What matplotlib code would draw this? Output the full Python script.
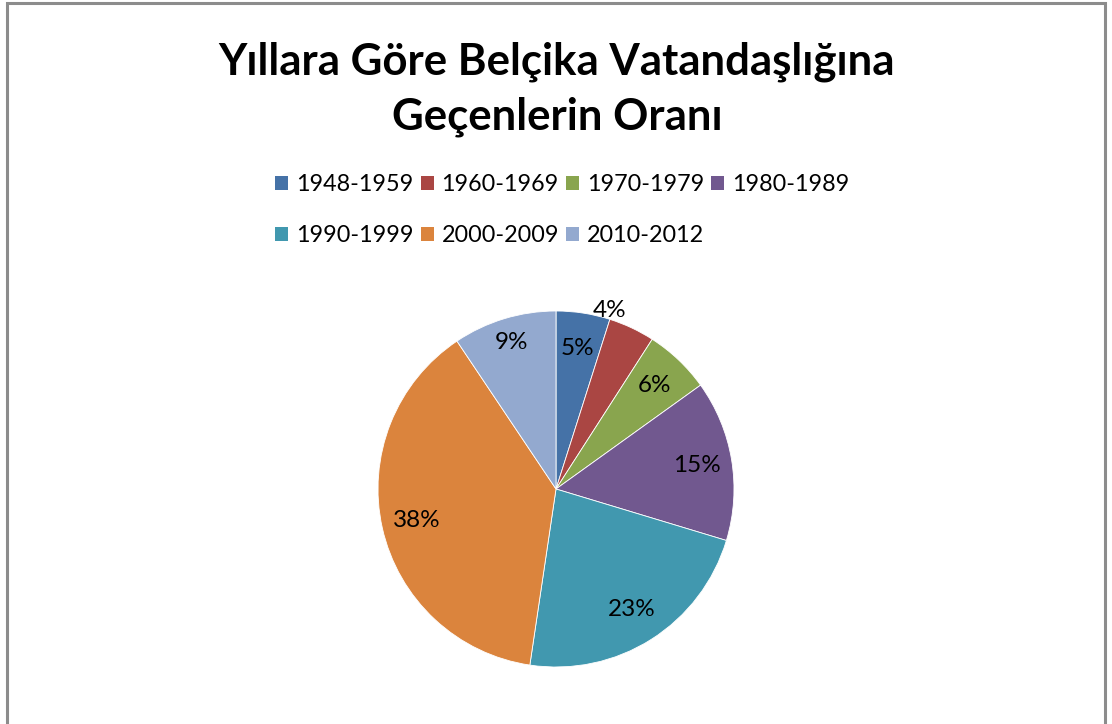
import numpy as np
import matplotlib
matplotlib.use("Agg")
import matplotlib.pyplot as plt
from matplotlib.patches import Patch, Rectangle

# data
periods = ["1948-1959", "1960-1969", "1970-1979", "1980-1989",
           "1990-1999", "2000-2009", "2010-2012"]
shares = [4.9, 4.2, 6.0, 14.6, 22.7, 38.3, 9.4]
colors = ["#4572A7", "#AA4643", "#89A54E", "#71588F",
          "#4198AF", "#DB843D", "#93A9CF"]
title = "Yıllara Göre Belçika Vatandaşlığına\nGeçenlerin Oranı"

FONT = ["Lato", "DejaVu Sans"]
W, H = 1112, 724

fig = plt.figure(figsize=(W / 100, H / 100), dpi=100)
fig.patch.set_facecolor("white")

# chart-area frame (Excel style)
fig.add_artist(Rectangle((7 / W, -0.05), (1105 - 7) / W, (H - 3) / H + 0.05,
                         transform=fig.transFigure, fill=False,
                         edgecolor="#8c8c8c", lw=2.2))

fig.text(557 / W, 1 - 89 / H, title, ha="center", va="center",
         fontsize=31.5, fontweight="bold", family=FONT, linespacing=1.43)

# pie
cx, cy, r = 556, H - 489, 178
ax = fig.add_axes([(cx - r) / W, (cy - r) / H, 2 * r / W, 2 * r / H])
wedges, texts, autotexts = ax.pie(
    shares, colors=colors, startangle=90, counterclock=False,
    autopct="%.0f%%", pctdistance=0.8,
    wedgeprops=dict(edgecolor="white", linewidth=0.6),
    textprops=dict(fontsize=17.5, family=FONT, color="black"))
ax.set_xlim(-1, 1)
ax.set_ylim(-1, 1)

# Excel "best fit" placement tweaks: (radius, angle shift in degrees)
tweaks = {1: (1.045, 8.5), 6: (0.86, 0.0)}
for i, (rad, dth) in tweaks.items():
    w = wedges[i]
    th = np.deg2rad((w.theta1 + w.theta2) / 2 + dth)
    autotexts[i].set_position((rad * np.cos(th), rad * np.sin(th)))

# legend, row-major in 4 columns
order = [0, 4, 1, 5, 2, 6, 3]
handles = [Patch(facecolor=colors[i], edgecolor="none") for i in order]
labels = [periods[i] for i in order]
fig.legend(handles, labels, ncol=4, loc="upper left",
           bbox_to_anchor=(275 / W, 1 - 174 / H), frameon=False,
           prop=dict(family=FONT, size=16.8),
           handlelength=0.56, handleheight=0.56, handletextpad=0.34,
           columnspacing=0.3, labelspacing=1.28, borderpad=0,
           borderaxespad=0)

fig.savefig("out.png", dpi=100)
